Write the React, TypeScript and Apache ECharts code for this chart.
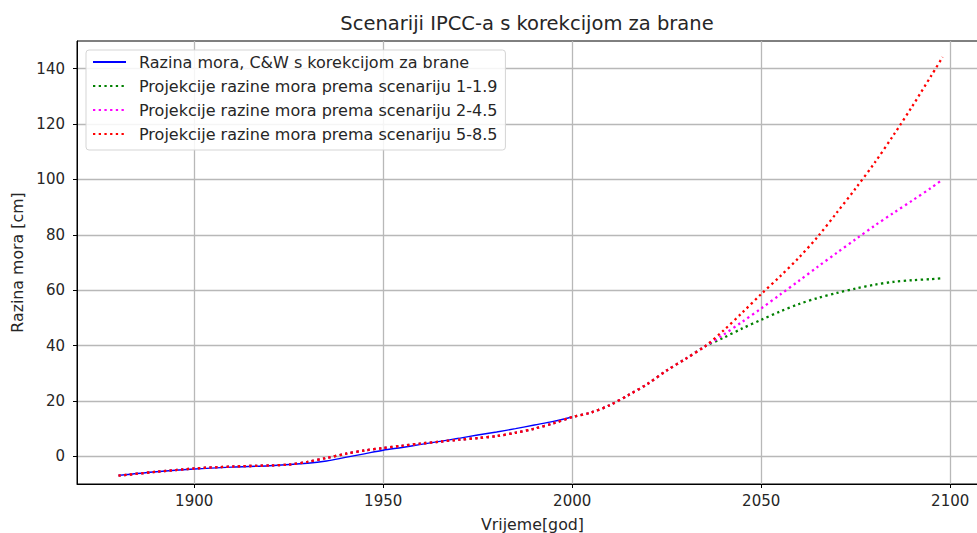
import React, { useEffect, useRef } from "react";
import * as echarts from "echarts";

const titleText = "Scenariji IPCC-a s korekcijom za brane";
const xName = "Vrijeme[god]";
const yName = "Razina mora [cm]";
const xTicks = [1900, 1950, 2000, 2050, 2100];
const yTicks = [0, 20, 40, 60, 80, 100, 120, 140];

const seriesNames = [
  "Razina mora, C&W s korekcijom za brane",
  "Projekcije razine mora prema scenariju 1-1.9",
  "Projekcije razine mora prema scenariju 2-4.5",
  "Projekcije razine mora prema scenariju 5-8.5",
];

const obsYears = [1880, 1890, 1900, 1910, 1920, 1930, 1935, 1940, 1945, 1950, 1955, 1960, 1965, 1970, 1975, 1980, 1985, 1990, 1995, 2000];
const obsValues = [-6.9, -5.6, -4.6, -3.9, -3.4, -2.5, -1.7, -0.4, 0.9, 2.2, 3.2, 4.3, 5.4, 6.5, 7.7, 8.8, 10.0, 11.3, 12.6, 14.2];

const projCommonYears = [1880, 1890, 1900, 1910, 1920, 1925, 1930, 1935, 1940, 1945, 1950, 1955, 1960, 1965, 1970, 1975, 1980, 1985, 1990, 1995, 2000, 2005, 2010, 2015, 2020, 2025, 2030, 2035];
const projCommonValues = [-7.0, -5.6, -4.4, -3.7, -3.3, -3.0, -2.0, -0.6, 0.9, 2.1, 3.0, 3.8, 4.6, 5.3, 6.0, 6.6, 7.3, 8.5, 10.0, 11.9, 14.2, 15.8, 18.5, 22.2, 26.2, 31.0, 35.2, 39.6];

const projYears = [2040, 2045, 2050, 2055, 2060, 2065, 2070, 2075, 2080, 2085, 2090, 2095, 2098];
const ssp119 = [42.8, 46.2, 49.3, 52.3, 55.0, 57.2, 59.0, 60.6, 62.0, 63.0, 63.6, 64.0, 64.3];
const ssp245 = [43.9, 48.6, 53.4, 58.4, 63.4, 68.5, 73.5, 78.4, 83.3, 87.9, 92.4, 97.0, 100.0];
const ssp585 = [45.4, 51.9, 58.6, 65.0, 71.8, 79.4, 88.0, 96.8, 106.0, 116.0, 126.5, 137.5, 144.2];

const pairs = (xs: number[], ys: number[]) => xs.map((x, i) => [x, ys[i]]);
const projSeries = (tail: number[]) => [
  ...pairs(projCommonYears, projCommonValues),
  ...pairs(projYears, tail),
];

export default function App() {
  const ref = useRef<HTMLDivElement>(null);
  useEffect(() => {
    document.body.style.margin = "0";
    if (!ref.current) return;
    const chart = echarts.init(ref.current, undefined, { renderer: "svg" });
    const font = "DejaVu Sans";
    const txt = "#262626";
    const dotted = (color: string) => ({
      color,
      width: 2.3,
      type: [2.3, 3.4] as any,
      cap: "butt" as any,
    });
    chart.setOption({
      animation: false,
      backgroundColor: "#fff",
      textStyle: { fontFamily: font },
      graphic: [
        {
          type: "text",
          x: 527,
          y: 23,
          style: {
            text: titleText,
            fontFamily: font,
            fontSize: 19.5,
            fill: txt,
            textAlign: "center",
            textVerticalAlign: "middle",
          },
        },
      ],
      grid: {
        left: 77,
        top: 41,
        width: 911,
        height: 443,
        outerBoundsMode: "none",
        containLabel: false,
        show: true,
        borderColor: "#000",
        borderWidth: 1,
        backgroundColor: "transparent",
      },
      legend: {
        orient: "vertical",
        left: 86,
        top: 50,
        padding: [4, 8, 8, 6],
        itemWidth: 33,
        itemHeight: 14,
        itemGap: 8,
        backgroundColor: "rgba(255,255,255,0.85)",
        borderColor: "#d5d5d5",
        borderWidth: 1,
        borderRadius: 3,
        itemStyle: { opacity: 0 },
        textStyle: { fontFamily: font, fontSize: 16, lineHeight: 16, color: txt, padding: [0, 0, 0, 8] },
        data: seriesNames,
      },
      xAxis: {
        type: "value",
        min: 1869,
        max: 2110,
        name: xName,
        nameLocation: "middle",
        nameGap: 32,
        nameTextStyle: { fontFamily: font, fontSize: 15.8, color: txt },
        axisLine: { show: true, onZero: false, lineStyle: { color: "#000", width: 1 } },
        axisTick: { show: true, length: 4, lineStyle: { color: "#000" }, customValues: xTicks },
        axisLabel: {
          customValues: xTicks,
          formatter: (v: number) => String(v),
          fontFamily: font,
          fontSize: 15,
          color: txt,
          margin: 9,
        },
        splitLine: { show: true, lineStyle: { color: "#b8b8b8", width: 1.3 } },
      },
      yAxis: {
        type: "value",
        min: -10,
        max: 150,
        name: yName,
        nameLocation: "middle",
        nameGap: 50,
        nameRotate: 90,
        nameTextStyle: { fontFamily: font, fontSize: 15.8, color: txt },
        axisLine: { show: true, onZero: false, lineStyle: { color: "#000", width: 1 } },
        axisTick: { show: true, length: 4, lineStyle: { color: "#000" }, customValues: yTicks },
        axisLabel: {
          customValues: yTicks,
          formatter: (v: number) => String(v),
          fontFamily: font,
          fontSize: 15,
          color: txt,
          margin: 12,
        },
        splitLine: { show: true, lineStyle: { color: "#b8b8b8", width: 1.3 } },
      },
      series: [
        {
          name: seriesNames[0],
          type: "line",
          data: pairs(obsYears, obsValues),
          symbol: "none",
          smooth: 0.3,
          lineStyle: { color: "#0000ff", width: 1.4 },
          itemStyle: { color: "#0000ff" },
        },
        {
          name: seriesNames[1],
          type: "line",
          data: projSeries(ssp119),
          symbol: "none",
          smooth: 0.3,
          lineStyle: dotted("#008000"),
          itemStyle: { color: "#008000" },
        },
        {
          name: seriesNames[2],
          type: "line",
          data: projSeries(ssp245),
          symbol: "none",
          smooth: 0.3,
          lineStyle: dotted("#ff00ff"),
          itemStyle: { color: "#ff00ff" },
        },
        {
          name: seriesNames[3],
          type: "line",
          data: projSeries(ssp585),
          symbol: "none",
          smooth: 0.3,
          lineStyle: dotted("#ff0000"),
          itemStyle: { color: "#ff0000" },
        },
      ],
    });
    return () => chart.dispose();
  }, []);
  return <div ref={ref} style={{ width: 977, height: 533 }} />;
}
